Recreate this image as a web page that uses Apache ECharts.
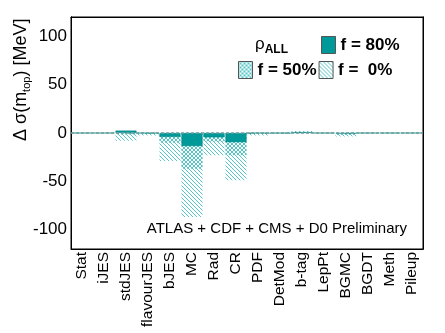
<!DOCTYPE html>
<html>
<head>
<meta charset="utf-8">
<script src="https://cdn.jsdelivr.net/npm/echarts@6/dist/echarts.min.js"></script>
<style>
  html, body { margin: 0; padding: 0; background: #fff; }
  #chart { width: 445px; height: 333px; }
</style>
</head>
<body>
<div id="chart"></div>
<script>
// systematic categories
const categories = ['Stat', 'iJES', 'stdJES', 'flavourJES', 'bJES', 'MC', 'Rad', 'CR',
  'PDF', 'DetMod', 'b-tag', 'LepPt', 'BGMC', 'BGDT', 'Meth', 'Pileup']
// shift of sigma(m_top) in MeV for each correlation scenario
const f80 = [0, 0, 2.5, 0, -4, -13.5, -4.5, -9.5, 0, 0, 0.8, 0, -0.5, 0, 0, 0]
const f50 = [0, 0, -1.5, -1, -10, -37, -9, -23, -1, -0.5, 1.5, 0, -2, 0, 0, 0]
const f0 = [0, 0, -8, -2.5, -29, -87, -23, -49, -2.5, -1, 2, 0, -3.5, 0, 0, 0]
const yTicks = [-100, -50, 0, 50, 100]

const FONT = '"Liberation Sans", Arial, Helvetica, sans-serif'
const solid = '#009999'
const hatchColor = '#55c6c6'

// small canvas tiles for the ROOT style fill patterns
function makeHatch(cross) {
  const c = document.createElement('canvas')
  c.width = 4
  c.height = 4
  const g = c.getContext('2d')
  g.fillStyle = hatchColor
  for (let i = 0; i < 4; i++) {
    g.fillRect(i, i, 1, 1)
    if (cross) g.fillRect(3 - i, i, 1, 1)
  }
  return c
}
const diagFill = { image: makeHatch(false), repeat: 'repeat' }
const crossFill = { image: makeHatch(true), repeat: 'repeat' }

const chart = echarts.init(document.getElementById('chart'))

const xBase = {
  type: 'category',
  data: categories,
  axisLine: { onZero: false, lineStyle: { color: '#000' } },
  axisTick: { inside: true, alignWithLabel: true, length: 7, lineStyle: { color: '#000' } },
  splitLine: { show: false }
}
// minor ticks every 10 MeV
const yMinor = {
  type: 'value',
  min: -120,
  max: 120,
  interval: 10,
  axisLine: { show: true, onZero: false, lineStyle: { color: '#000' } },
  axisTick: { inside: true, length: 5, lineStyle: { color: '#000' } },
  splitLine: { show: false }
}
// major ticks at the labelled values
const yMajor = {
  type: 'value',
  min: -120,
  max: 120,
  axisLine: { show: true, onZero: false, lineStyle: { color: '#000' } },
  axisTick: { inside: true, length: 10, customValues: yTicks, lineStyle: { color: '#000' } },
  axisLabel: { show: false },
  splitLine: { show: false }
}

const legendText = { fontSize: 17, fontWeight: 'bold', color: '#000', fontFamily: FONT }

chart.setOption({
  animation: false,
  textStyle: { fontFamily: FONT },
  grid: {
    left: 71, right: 22, top: 17, bottom: 84,
    show: true, borderColor: '#000', borderWidth: 1, backgroundColor: 'transparent'
  },
  legend: [
    {
      data: ['f = 80%'],
      left: 321, top: 36, padding: 0,
      icon: 'rect', itemWidth: 14, itemHeight: 17,
      itemStyle: { borderColor: '#555', borderWidth: 1 },
      textStyle: legendText
    },
    {
      data: ['f = 50%', 'f =  0%'],
      left: 238, top: 61, padding: 0,
      icon: 'rect', itemWidth: 14, itemHeight: 17, itemGap: 2,
      itemStyle: { borderColor: '#555', borderWidth: 1 },
      textStyle: legendText
    }
  ],
  xAxis: [
    Object.assign({}, xBase, {
      position: 'bottom',
      axisLabel: { interval: 0, rotate: 90, fontSize: 15.5, color: '#000', margin: 3, fontFamily: FONT }
    }),
    Object.assign({}, xBase, { position: 'top', axisLabel: { show: false } })
  ],
  yAxis: [
    Object.assign({}, yMinor, {
      position: 'left',
      axisLabel: {
        fontSize: 17, color: '#000', margin: 4, fontFamily: FONT,
        formatter: v => (yTicks.indexOf(v) >= 0 ? String(v) : '')
      }
    }),
    Object.assign({}, yMinor, { position: 'right', axisLabel: { show: false } }),
    Object.assign({}, yMajor, { position: 'left' }),
    Object.assign({}, yMajor, { position: 'right' })
  ],
  series: [
    {
      name: 'f =  0%',
      type: 'bar',
      data: f0,
      barWidth: 21,
      barGap: '-100%',
      itemStyle: { color: diagFill },
      markLine: {
        silent: true,
        symbol: 'none',
        label: { show: false },
        lineStyle: { color: '#6f9f9f', type: [3, 2], width: 1.5 },
        data: [{ yAxis: 0 }]
      }
    },
    {
      name: 'f = 50%',
      type: 'bar',
      data: f50,
      barWidth: 21,
      barGap: '-100%',
      itemStyle: { color: crossFill }
    },
    {
      name: 'f = 80%',
      type: 'bar',
      data: f80,
      barWidth: 21,
      barGap: '-100%',
      itemStyle: { color: solid, borderColor: '#008080', borderWidth: 0.5 }
    }
  ],
  graphic: [
    {
      type: 'text',
      x: 10, y: 141,
      rotation: Math.PI / 2,
      style: {
        text: '{a|Δ σ(m}{s|top}{a|) [MeV]}',
        fill: '#000',
        rich: {
          a: { fontSize: 18, lineHeight: 22, fontFamily: FONT },
          s: { fontSize: 11, lineHeight: 12, verticalAlign: 'bottom', fontFamily: FONT }
        }
      }
    },
    {
      type: 'text',
      x: 255, y: 32,
      style: {
        text: '{r|ρ}{s|ALL}',
        fill: '#000',
        rich: {
          r: { fontSize: 17, lineHeight: 24, fontFamily: FONT },
          s: { fontSize: 12, lineHeight: 12, fontWeight: 'bold', verticalAlign: 'bottom', fontFamily: FONT }
        }
      }
    },
    {
      type: 'text',
      right: 38, top: 221,
      style: {
        text: 'ATLAS + CDF + CMS + D0 Preliminary',
        fill: '#000',
        fontSize: 15,
        fontFamily: FONT
      }
    }
  ]
})
</script>
</body>
</html>
